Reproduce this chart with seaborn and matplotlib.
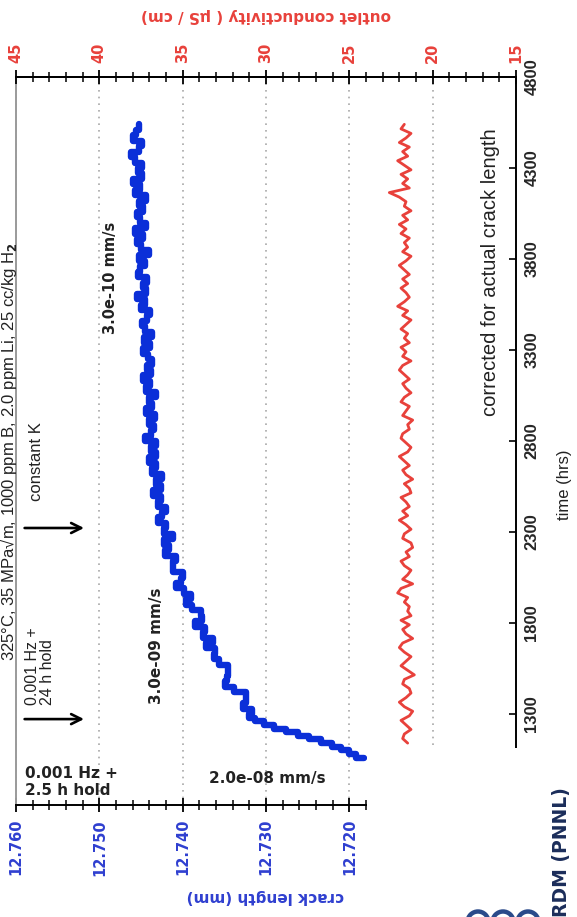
import numpy as np
import pandas as pd
import matplotlib
matplotlib.use("Agg")
import matplotlib.pyplot as plt
import seaborn as sns
from matplotlib.patches import Rectangle, Circle
from matplotlib.ticker import MultipleLocator, FixedLocator, FuncFormatter

# ---------------- data ----------------
# crack length (mm) vs time (hrs): fast-growth part, sampled every 20 h
fast_time = [1060, 1080, 1100, 1120, 1140, 1160, 1180, 1200, 1220, 1240, 1260, 1280]
fast_crack = [12.7182, 12.7192, 12.7200, 12.7210, 12.7221, 12.7234,
              12.7248, 12.7262, 12.7276, 12.7290, 12.7302, 12.7313]
# slow-growth part, sampled every 30 h from 1300 to 4540 h
slow_time = list(range(1300, 4541, 30))
slow_crack = [
    12.7320, 12.7317, 12.7328, 12.7324, 12.7324, 12.7338, 12.7349, 12.7347, 12.7346, 12.7346,
    12.7357, 12.7363, 12.7361, 12.7372, 12.7364, 12.7375, 12.7373, 12.7385, 12.7377, 12.7378,
    12.7389, 12.7396, 12.7390, 12.7398, 12.7408, 12.7402, 12.7399, 12.7412, 12.7412, 12.7408,
    12.7421, 12.7416, 12.7422, 12.7412, 12.7423, 12.7420, 12.7429, 12.7425, 12.7420, 12.7430,
    12.7426, 12.7436, 12.7426, 12.7432, 12.7425, 12.7437, 12.7432, 12.7440, 12.7432, 12.7438,
    12.7432, 12.7445, 12.7438, 12.7434, 12.7441, 12.7433, 12.7444, 12.7437, 12.7440, 12.7432,
    12.7444, 12.7439, 12.7448, 12.7438, 12.7443, 12.7437, 12.7442, 12.7448, 12.7439, 12.7446,
    12.7437, 12.7445, 12.7449, 12.7443, 12.7439, 12.7450, 12.7445, 12.7455, 12.7444, 12.7448,
    12.7443, 12.7454, 12.7451, 12.7445, 12.7452, 12.7441, 12.7450, 12.7455, 12.7448, 12.7457,
    12.7444, 12.7451, 12.7455, 12.7448, 12.7453, 12.7444, 12.7457, 12.7451, 12.7459, 12.7449,
    12.7454, 12.7449, 12.7457, 12.7462, 12.7453, 12.7449, 12.7459, 12.7456, 12.7453,
]
# outlet conductivity (uS/cm) vs time (hrs), sampled every 25 h from 1140 to 4540 h
cond_time = list(range(1140, 4541, 25))
cond_values = [
    21.5, 21.8, 21.7, 21.3, 21.6, 21.9, 21.4, 21.2, 21.7, 22.0,
    21.6, 21.3, 21.4, 21.8, 21.7, 21.1, 21.5, 21.9, 21.6, 21.3,
    21.7, 22.0, 21.8, 21.2, 21.6, 21.8, 21.4, 21.9, 21.3, 21.5,
    21.4, 21.7, 21.5, 22.1, 21.9, 21.2, 21.8, 21.5, 21.3, 21.7,
    21.9, 21.4, 21.6, 21.2, 21.3, 21.8, 21.7, 21.3, 21.6, 22.0,
    21.5, 21.8, 21.4, 21.6, 21.9, 21.3, 21.4, 21.7, 21.2, 21.6,
    21.8, 21.4, 21.7, 22.0, 21.5, 21.3, 21.6, 21.9, 21.8, 21.4,
    21.5, 21.2, 21.8, 21.6, 21.4, 21.9, 21.7, 21.3, 21.6, 21.8,
    21.4, 21.7, 22.0, 21.8, 21.3, 21.8, 21.6, 21.9, 21.4, 21.7,
    21.5, 21.9, 21.6, 21.3, 21.8, 21.5, 22.1, 21.7, 21.4, 21.6,
    21.9, 21.5, 21.8, 21.4, 21.7, 22.0, 21.6, 21.3, 21.8, 21.5,
    21.7, 21.4, 21.9, 21.6, 22.0, 21.5, 21.8, 21.3, 21.7, 21.6,
    22.0, 22.6, 21.4, 21.8, 21.5, 21.9, 21.3, 21.7, 22.1, 21.5,
    21.8, 21.4, 22.0, 21.6, 21.3, 21.9, 21.7,
]

crack_ticks = [12.700, 12.710, 12.720, 12.730, 12.740, 12.750, 12.760]
cond_ticks = [15, 20, 25, 30, 35, 40, 45]
time_ticks = [1300, 1800, 2300, 2800, 3300, 3800, 4300, 4800]

title = "325°C, 35 MPa√m, 1000 ppm B, 2.0 ppm Li, 25 cc/kg H$_2$"

# ---------------- style ----------------
sns.set_theme(style="white")
plt.rcParams["font.family"] = ["DejaVu Sans"]
plt.rcParams["font.weight"] = "bold"

BLUE = "#0b2fd8"
RED = "#e8413b"
LBLUE = "#2f3fd0"
NARROW = ["Liberation Sans Narrow", "Liberation Sans", "DejaVu Sans"]
ARIAL = ["Liberation Sans", "DejaVu Sans"]

W, H = 577, 917
L, R, T, B = 16, 516, 77, 805
fig = plt.figure(figsize=(W / 100, H / 100), dpi=100)
fig.patch.set_facecolor("white")
ax = fig.add_axes([L / W, 1 - B / H, (R - L) / W, (B - T) / H])
ax2 = ax.twiny()

crack_df = pd.DataFrame({"time": fast_time + slow_time, "crack": fast_crack + slow_crack})
cond_df = pd.DataFrame({"time": cond_time, "cond": cond_values})

sns.lineplot(data=crack_df, x="crack", y="time", ax=ax, sort=False, estimator=None,
             color=BLUE, linewidth=4.6, drawstyle="steps-post")
sns.lineplot(data=cond_df, x="cond", y="time", ax=ax2, sort=False, estimator=None,
             color=RED, linewidth=2.0)

ax.set_xlim(12.760, 12.700)
ax.set_ylim(800, 4800)
ax2.set_xlim(45, 15)
ax2.set_ylim(800, 4800)

# bottom axis (crack length)
ax.xaxis.set_major_locator(FixedLocator(crack_ticks))
ax.xaxis.set_minor_locator(MultipleLocator(0.002))
ax.xaxis.set_major_formatter(FuncFormatter(lambda v, p: f"{v:.3f}"))
ax.tick_params(axis="x", which="major", direction="inout", length=10, width=1.3,
               color="black", labelsize=10.5, labelcolor=LBLUE, labelrotation=90, pad=5,
               bottom=True)
ax.tick_params(axis="x", which="minor", direction="inout", length=7, width=1.1,
               color="black", bottom=True)
ax.grid(axis="x", which="major", linestyle=(0, (1, 3)), color="#a8a8a8", linewidth=1.2)

# right axis (time)
ax.yaxis.tick_right()
ax.yaxis.set_major_locator(FixedLocator(time_ticks))
ax.tick_params(axis="y", which="major", direction="in", length=5, width=1.2,
               color="black", labelsize=12, labelrotation=90, pad=6, right=True, left=False)
for lbl in ax.get_yticklabels():
    lbl.set_fontfamily(NARROW)
    lbl.set_fontweight("bold")
    lbl.set_va("center")

# top axis (conductivity)
ax2.xaxis.set_major_locator(FixedLocator(cond_ticks))
ax2.xaxis.set_minor_locator(MultipleLocator(1))
ax2.tick_params(axis="x", which="major", direction="inout", length=10, width=1.3,
                color="black", labelsize=10.5, labelcolor=RED, labelrotation=90, pad=5,
                top=True)
ax2.tick_params(axis="x", which="minor", direction="inout", length=7, width=1.1,
                color="black", top=True)
ax2.yaxis.set_visible(False)

ax.set_xlabel("")
ax.set_ylabel("")
ax2.set_xlabel("")
ax2.set_ylabel("")

for sp in ["top", "right", "bottom"]:
    ax.spines[sp].set_color("black")
    ax.spines[sp].set_linewidth(1.4)
ax.spines["left"].set_color("#9a9a9a")
ax.spines["left"].set_linewidth(1.4)
for sp in ["left", "right", "bottom"]:
    ax2.spines[sp].set_visible(False)
ax2.spines["top"].set_color("black")
ax2.spines["top"].set_linewidth(1.4)

# axis labels
ax.text(0.498, -0.126, "crack length (mm)", transform=ax.transAxes, rotation=180,
        ha="center", va="center", color=LBLUE, fontsize=11, fontweight="bold")
ax.text(0.5, 1.085, "outlet conductivity ( μS / cm)", transform=ax.transAxes, rotation=180,
        ha="center", va="center", color=RED, fontsize=11, fontweight="bold")
ax.text(1.098, 0.44, "time (hrs)", transform=ax.transAxes, rotation=90,
        ha="center", va="center", color="#222222", fontsize=12, fontweight="normal",
        family=NARROW)
fig.text(9 / W, 1 - 452 / H, title, rotation=90, ha="center", va="center",
         fontsize=12, fontweight="normal", family=ARIAL, color="#222222")

# annotations (inside plot, data coords: x = crack length, y = time)
ax.text(12.7487, 3695, "3.0e-10 mm/s", rotation=90, ha="center", va="center",
        fontsize=10.5, fontweight="bold", color="#222222")
ax.text(12.7431, 1674, "3.0e-09 mm/s", rotation=90, ha="center", va="center",
        fontsize=11, fontweight="bold", color="#222222")
ax.text(12.7031, 3728, "corrected for actual crack length", rotation=90, ha="center",
        va="center", fontsize=14.5, fontweight="normal", family=ARIAL, color="#222222")
ax.text(12.7571, 1349, "0.001 Hz +\n24 h hold", rotation=90, ha="center", va="bottom",
        multialignment="left", fontsize=11.5, fontweight="normal", family=ARIAL,
        color="#222222", linespacing=1.05)
ax.text(12.7575, 2470, "constant K", rotation=90, ha="center", va="bottom",
        fontsize=12, fontweight="normal", family=ARIAL, color="#222222")
for t_evt in [1272, 2322]:
    ax.annotate("", xy=(12.7515, t_evt), xytext=(12.7593, t_evt),
                arrowprops=dict(arrowstyle="->,head_length=0.6,head_width=0.3",
                                color="black", lw=1.9))
ax.text(12.7589, 926, "0.001 Hz +\n2.5 h hold", ha="left", va="center",
        fontsize=11, fontweight="bold", color="#222222", linespacing=1.1)
ax.text(12.7298, 948, "2.0e-08 mm/s", ha="center", va="center",
        fontsize=11, fontweight="bold", color="#222222")

# slide overlay covering the lower right corner, with credit text and logo rings
fig.add_artist(Rectangle((367 / W, 0), (W - 367) / W, (H - 748) / H,
                         transform=fig.transFigure, facecolor="white", edgecolor="none",
                         zorder=5))
fig.text(562 / W, 1 - 787 / H, "RDM (PNNL)", rotation=90, ha="center", va="top",
         fontsize=13.5, fontweight="bold", color="#1b2d5a", zorder=6)
for cx in [478, 503, 528]:
    fig.add_artist(Circle((cx / 100, -0.05), 0.105, transform=fig.dpi_scale_trans,
                          facecolor="none", edgecolor="#2a4a8a", linewidth=3.2, zorder=6))

fig.savefig("out.png", dpi=100, facecolor="white")
